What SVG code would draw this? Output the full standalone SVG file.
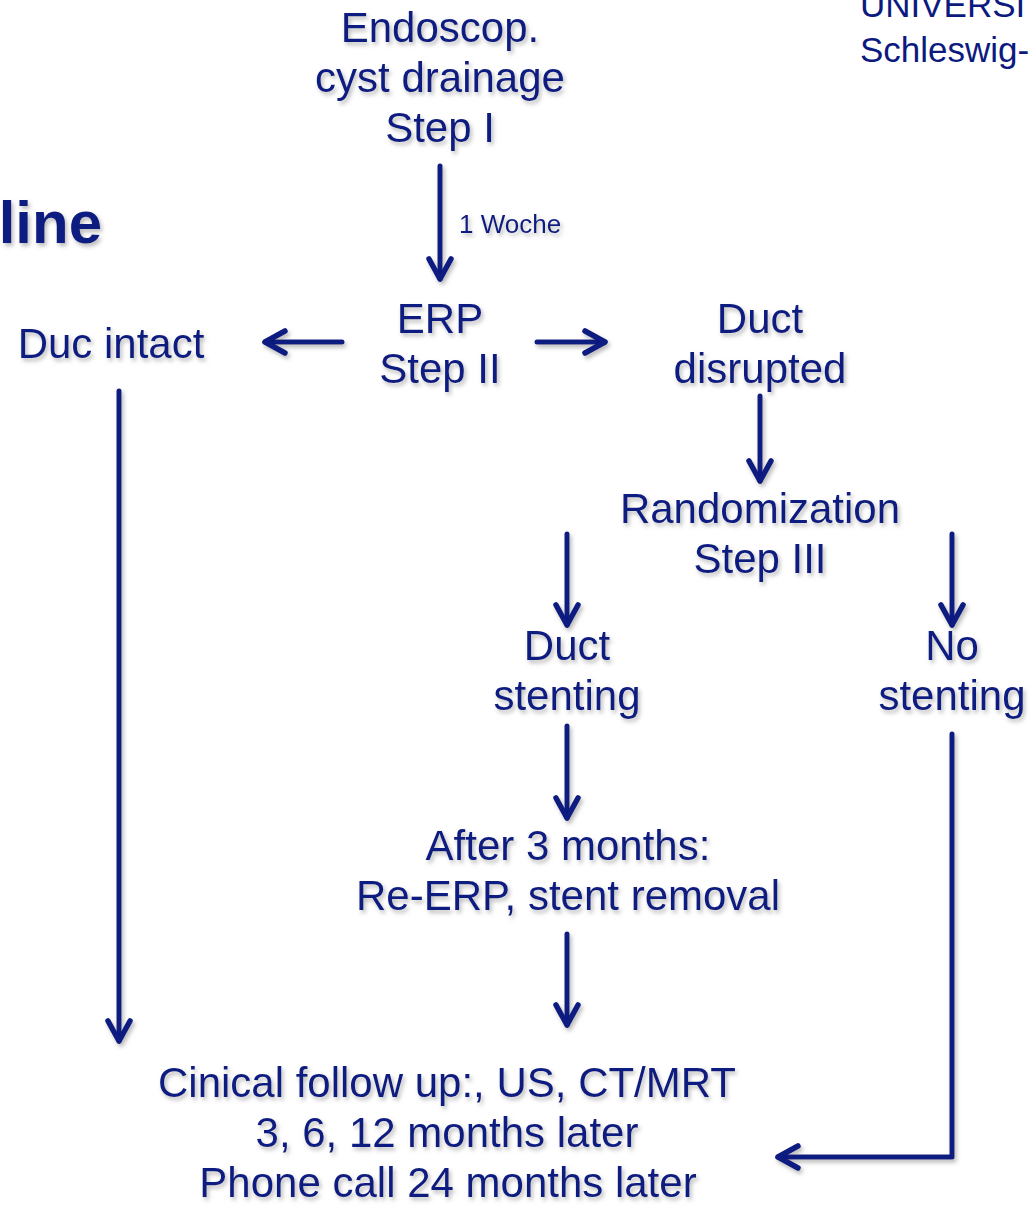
<svg xmlns="http://www.w3.org/2000/svg" width="1030" height="1208" viewBox="0 0 1030 1208">
  <style>
    .t { font-family: "Liberation Sans", Arial, sans-serif; font-size: 42px; fill: #0c1a80; text-anchor: middle; }
    .small { font-family: "Liberation Sans", Arial, sans-serif; font-size: 26px; fill: #0c1a80; }
    .logo { font-family: "Liberation Sans", Arial, sans-serif; font-size: 35px; fill: #0c1a80; }
    .title { font-family: "Liberation Sans", Arial, sans-serif; font-size: 60px; font-weight: bold; fill: #0c1a80; text-anchor: end; }
    .c { fill: none; stroke: #0c1a80; stroke-width: 5; stroke-linecap: round; stroke-linejoin: round; }
    .sh { filter: url(#shadow); }
  </style>
  <defs>
    <filter id="shadow" x="-20%" y="-20%" width="140%" height="160%">
      <feDropShadow dx="2" dy="3" stdDeviation="2" flood-color="#808080" flood-opacity="0.55"/>
    </filter>
    <marker id="ah" viewBox="-26 -15 30 30" refX="0" refY="0" markerWidth="30" markerHeight="30" markerUnits="userSpaceOnUse" orient="auto" overflow="visible">
      <path d="M-20,-11 L0,0 L-20,11" fill="none" stroke="#0c1a80" stroke-width="5.5" stroke-linecap="round" stroke-linejoin="round"/>
    </marker>
  </defs>
  <rect width="1030" height="1208" fill="#ffffff"/>

  <g id="logo">
    <text class="logo" x="860" y="17">UNIVERSI</text>
    <text class="logo" x="860" y="62">Schleswig-</text>
  </g>

  <g id="title" class="sh">
    <text class="title" x="102" y="243">line</text>
  </g>

  <g id="connectors" class="sh">
    <line class="c" x1="440" y1="166" x2="440" y2="279" marker-end="url(#ah)"/>
    <line class="c" x1="342" y1="342" x2="265" y2="342" marker-end="url(#ah)"/>
    <line class="c" x1="537" y1="342" x2="605" y2="342" marker-end="url(#ah)"/>
    <line class="c" x1="760" y1="396" x2="760" y2="481" marker-end="url(#ah)"/>
    <line class="c" x1="567" y1="534" x2="567" y2="625" marker-end="url(#ah)"/>
    <line class="c" x1="952" y1="534" x2="952" y2="625" marker-end="url(#ah)"/>
    <line class="c" x1="567" y1="726" x2="567" y2="818" marker-end="url(#ah)"/>
    <line class="c" x1="567" y1="934" x2="567" y2="1025" marker-end="url(#ah)"/>
    <line class="c" x1="119" y1="391" x2="119" y2="1041" marker-end="url(#ah)"/>
    <polyline class="c" points="952,734 952,1157 778,1157" marker-end="url(#ah)"/>
    <text class="small" x="459" y="233">1 Woche</text>
  </g>

  <g id="node-step1" class="sh">
    <text class="t" x="440" y="42">Endoscop.</text>
    <text class="t" x="440" y="92">cyst drainage</text>
    <text class="t" x="440" y="142">Step I</text>
  </g>

  <g id="node-erp" class="sh">
    <text class="t" x="440" y="333">ERP</text>
    <text class="t" x="440" y="383">Step II</text>
  </g>

  <g id="node-intact" class="sh">
    <text class="t" x="111" y="358">Duc intact</text>
  </g>

  <g id="node-disrupted" class="sh">
    <text class="t" x="760" y="333">Duct</text>
    <text class="t" x="760" y="383">disrupted</text>
  </g>

  <g id="node-random" class="sh">
    <text class="t" x="760" y="523">Randomization</text>
    <text class="t" x="760" y="573">Step III</text>
  </g>

  <g id="node-stenting" class="sh">
    <text class="t" x="567" y="660">Duct</text>
    <text class="t" x="567" y="710">stenting</text>
  </g>

  <g id="node-nostenting" class="sh">
    <text class="t" x="952" y="660">No</text>
    <text class="t" x="952" y="710">stenting</text>
  </g>

  <g id="node-after" class="sh">
    <text class="t" x="568" y="860">After 3 months:</text>
    <text class="t" x="568" y="910">Re-ERP, stent removal</text>
  </g>

  <g id="node-followup" class="sh">
    <text class="t" x="447" y="1097">Cinical follow up:, US, CT/MRT</text>
    <text class="t" x="447" y="1147">3, 6, 12 months later</text>
    <text class="t" x="448" y="1197">Phone call 24 months later</text>
  </g>
</svg>
